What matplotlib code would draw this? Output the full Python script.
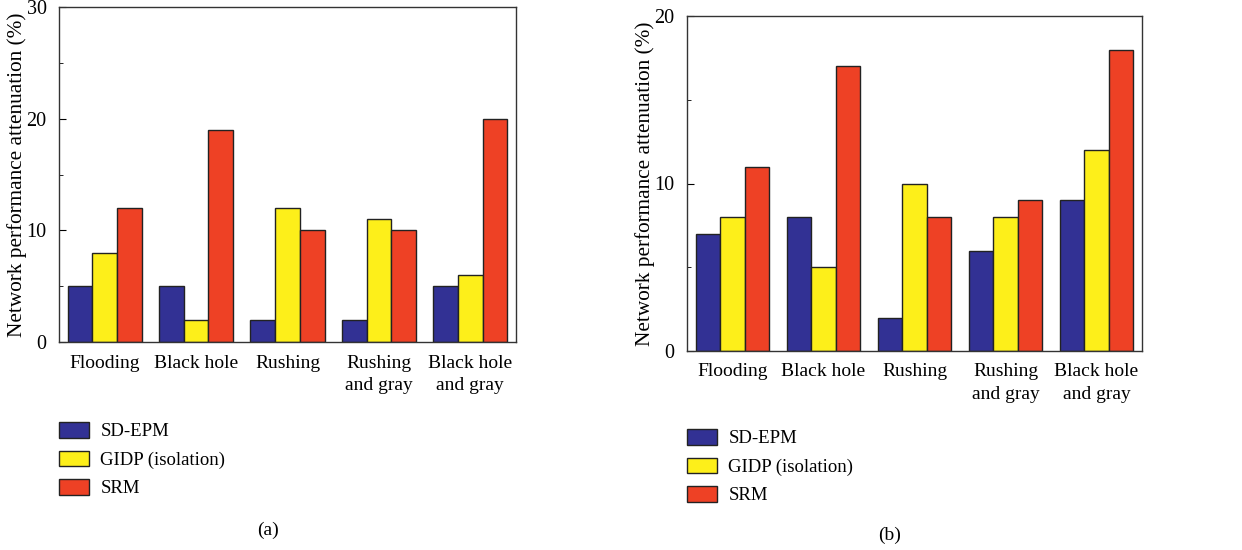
import matplotlib.pyplot as plt
import numpy as np
from matplotlib.ticker import MultipleLocator

plt.rcParams['font.family'] = ['Liberation Serif', 'DejaVu Serif']

attacks = ['Flooding', 'Black hole', 'Rushing', 'Rushing\nand gray', 'Black hole\nand gray']
methods = ['SD-EPM', 'GIDP (isolation)', 'SRM']
colors = ['#323194', '#fdef1a', '#ee4125']

# panel (a)
sdepm_a = [5, 5, 2, 2, 5]
gidp_a = [8, 2, 12, 11, 6]
srm_a = [12, 19, 10, 10, 20]

# panel (b)
sdepm_b = [7, 8, 2, 6, 9]
gidp_b = [8, 5, 10, 8, 12]
srm_b = [11, 17, 8, 9, 18]

W, H = 1242, 550
fig = plt.figure(figsize=(W / 100, H / 100), dpi=100)


def px_axes(x0, y0, x1, y1):
    return fig.add_axes([x0 / W, 1 - y1 / H, (x1 - x0) / W, (y1 - y0) / H])


def draw_panel(ax, series, ymax, legend_xy, tag, tag_xy):
    x = np.arange(len(attacks))
    bw = 0.27
    bars = []
    for i, (vals, c) in enumerate(zip(series, colors)):
        b = ax.bar(x + (i - 1) * bw, vals, bw, color=c, edgecolor='#222222', linewidth=1.0)
        bars.append(b)
    ax.set_xlim(-0.5, len(attacks) - 0.5)
    ax.set_ylim(0, ymax)
    ax.yaxis.set_major_locator(MultipleLocator(10))
    ax.yaxis.set_minor_locator(MultipleLocator(5))
    ax.set_xticks(x)
    ax.set_xticklabels(attacks, fontsize=14, linespacing=1.45)
    ax.tick_params(axis='x', length=0, pad=9)
    ax.tick_params(axis='y', which='major', direction='in', length=5, labelsize=14.5, pad=9)
    ax.tick_params(axis='y', which='minor', direction='in', length=3)
    for s in ax.spines.values():
        s.set_color('#333333')
        s.set_linewidth(1.0)
    ax.set_ylabel('Network performance attenuation (%)', fontsize=15.3)
    ax.yaxis.set_label_coords(-0.07, 0.5)
    fig.legend(bars, methods, loc='upper left', bbox_to_anchor=(legend_xy[0] / W, 1 - legend_xy[1] / H),
               frameon=False, fontsize=13.5, handlelength=1.6, handleheight=0.9,
               handletextpad=0.6, labelspacing=0.55, borderaxespad=0, borderpad=0)
    fig.text(tag_xy[0] / W, 1 - tag_xy[1] / H, tag, ha='center', va='center', fontsize=14)


ax1 = px_axes(59, 7, 516, 342)
draw_panel(ax1, [sdepm_a, gidp_a, srm_a], 30, (59, 422), '(a)', (268, 530))

ax2 = px_axes(687, 16, 1142, 351)
draw_panel(ax2, [sdepm_b, gidp_b, srm_b], 20, (687, 429), '(b)', (890, 535))

fig.savefig('out.png', dpi=100)
